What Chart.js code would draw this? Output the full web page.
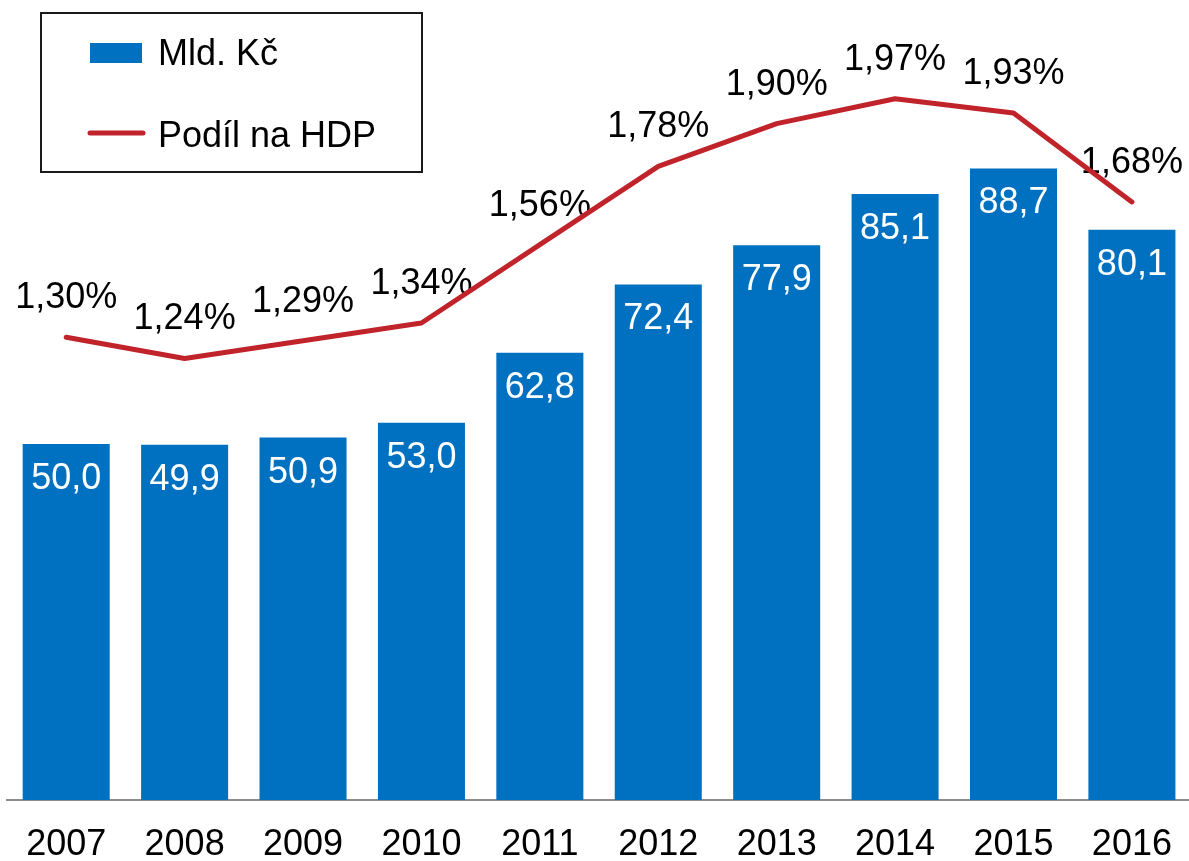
<!DOCTYPE html>
<html>
<head>
<meta charset="utf-8">
<script src="https://cdn.jsdelivr.net/npm/chart.js@4/dist/chart.umd.min.js"></script>
<style>
  html, body { margin: 0; padding: 0; background: #fff; overflow: hidden; }
  #wrap { position: relative; width: 1195px; height: 861px; }
  canvas { display: block; }
</style>
</head>
<body>
<div id="wrap"><canvas id="c" width="1195" height="861" style="width:1195px;height:861px"></canvas></div>
<script>
const categories = ['2007','2008','2009','2010','2011','2012','2013','2014','2015','2016'];
const mldKc = [50.0, 49.9, 50.9, 53.0, 62.8, 72.4, 77.9, 85.1, 88.7, 80.1];
const podilHdp = [1.30, 1.24, 1.29, 1.34, 1.56, 1.78, 1.90, 1.97, 1.93, 1.68];
const seriesNames = ['Mld. Kč', 'Podíl na HDP'];

const FONT = "'Liberation Sans', Arial, sans-serif";
const BLUE = '#0070C0';
const RED = '#C1232B';

const lineLabels = {
  id: 'lineLabels',
  beforeDatasetsDraw(chart) {
    const ctx = chart.ctx;
    const meta = chart.getDatasetMeta(1);
    ctx.save();
    ctx.font = '36px ' + FONT;
    ctx.fillStyle = '#000';
    ctx.textAlign = 'center';
    ctx.textBaseline = 'middle';
    meta.data.forEach((pt, i) => {
      const t = podilHdp[i].toFixed(2).replace('.', ',') + '%';
      ctx.fillText(t, pt.x, pt.y - 39);
    });
    ctx.restore();
  }
};

const barLabels = {
  id: 'barLabels',
  afterDatasetsDraw(chart) {
    const ctx = chart.ctx;
    const meta = chart.getDatasetMeta(0);
    ctx.save();
    ctx.font = '36px ' + FONT;
    ctx.fillStyle = '#fff';
    ctx.textAlign = 'center';
    ctx.textBaseline = 'middle';
    meta.data.forEach((bar, i) => {
      const t = mldKc[i].toFixed(1).replace('.', ',');
      ctx.fillText(t, bar.x, bar.y + 35);
    });
    ctx.restore();
  }
};

const legendBox = {
  id: 'legendBox',
  afterDraw(chart) {
    const ctx = chart.ctx;
    ctx.save();
    ctx.fillStyle = '#fff';
    ctx.fillRect(41, 13, 381, 159);
    ctx.strokeStyle = '#1a1a1a';
    ctx.lineWidth = 2;
    ctx.strokeRect(41, 13, 381, 159);
    ctx.fillStyle = BLUE;
    ctx.fillRect(90, 43, 52, 20);
    ctx.strokeStyle = RED;
    ctx.lineWidth = 5;
    ctx.lineCap = 'round';
    ctx.beginPath();
    ctx.moveTo(90, 133);
    ctx.lineTo(143, 133);
    ctx.stroke();
    ctx.font = '36px ' + FONT;
    ctx.fillStyle = '#000';
    ctx.textAlign = 'left';
    ctx.textBaseline = 'alphabetic';
    ctx.fillText(seriesNames[0], 158, 65);
    ctx.fillText(seriesNames[1], 158, 147);
    ctx.restore();
  }
};

new Chart(document.getElementById('c'), {
  data: {
    labels: categories,
    datasets: [
      {
        type: 'bar',
        label: seriesNames[0],
        data: mldKc,
        backgroundColor: BLUE,
        borderWidth: 0,
        barPercentage: 0.735,
        categoryPercentage: 1.0,
        yAxisID: 'y',
        order: 2
      },
      {
        type: 'line',
        label: seriesNames[1],
        data: podilHdp,
        borderColor: RED,
        backgroundColor: RED,
        borderWidth: 5,
        borderCapStyle: 'round',
        borderJoinStyle: 'round',
        pointRadius: 0,
        tension: 0,
        yAxisID: 'y1',
        order: 1
      }
    ]
  },
  options: {
    responsive: false,
    maintainAspectRatio: false,
    animation: false,
    devicePixelRatio: 1,
    layout: { padding: { left: 7, right: 1, top: 0, bottom: 0 } },
    plugins: { legend: { display: false }, tooltip: { enabled: false } },
    scales: {
      x: {
        offset: true,
        grid: { display: false, drawTicks: false },
        border: { display: true, color: '#8c8c8c', width: 2 },
        ticks: { color: '#000', font: { size: 36, family: FONT }, padding: 23, maxRotation: 0, autoSkip: false },
        afterFit(scale) { scale.height = 61; }
      },
      y: { display: false, min: 0, max: 112.36 },
      y1: { display: false, min: 0, max: 2.2472 }
    }
  },
  plugins: [lineLabels, barLabels, legendBox]
});
</script>
</body>
</html>
